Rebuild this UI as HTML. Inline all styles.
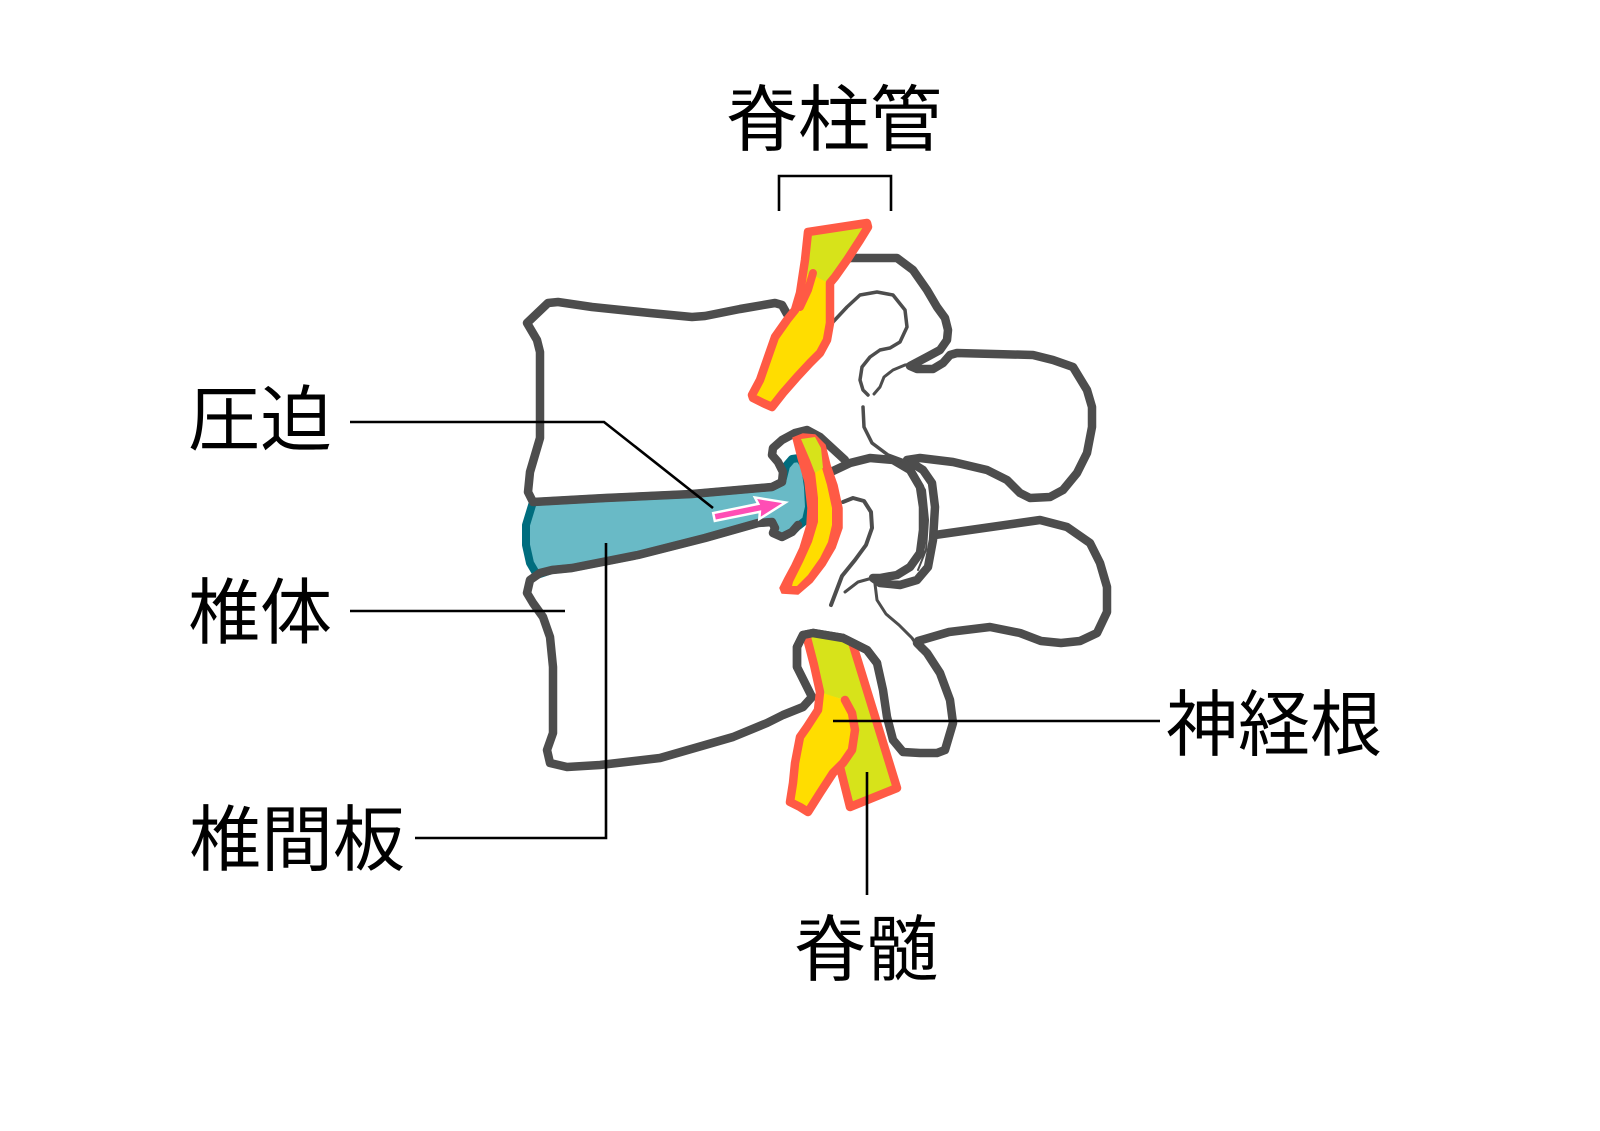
<!DOCTYPE html>
<html>
<head>
<meta charset="utf-8">
<style>
html,body{margin:0;padding:0;background:#fff;width:1600px;height:1131px;overflow:hidden}
svg{display:block}
text{font-family:"Liberation Sans","Noto Sans CJK JP",sans-serif;font-size:72px;font-weight:400;fill:#000}
</style>
</head>
<body>
<svg width="1600" height="1131" viewBox="0 0 1600 1131" xmlns="http://www.w3.org/2000/svg">
<rect width="1600" height="1131" fill="#fff"/>

<!-- intervertebral disc -->
<path d="M533,502 L605,498 L692,494 L772,487 L782,482 L786,466 L792,459 L799,458 L805,466 L808,487 L809,507 L806,520 L797,527 L792,532 L782,537 L773,533 L775,528 L772,522 L758,523 L705,538 L638,555 L572,568 L552,570 L537,575 L530,563 L526,545 L526,525 Z" fill="#69bac6" stroke="#006d7e" stroke-width="8" stroke-linejoin="round"/>

<g fill="none" stroke="#4d4d4d" stroke-linecap="round" stroke-linejoin="round">
<!-- upper vertebral body -->
<path stroke-width="8.5" d="M787,314 L782,305 L775,303 L740,309 L705,316 L692,317 L650,313 L592,307 L558,302 L548,303 L527,323 L537,340 L540,352 L540,438 L535,455 L530,472 L528,492 L533,502 L605,498 L692,494 L772,487 L782,482 L783,472 L778,462 L772,455 L773,448 L782,440 L795,433 L807,430 L820,437 L845,460"/>
<!-- lower vertebral body -->
<path stroke-width="8.5" d="M798,525 L792,532 L782,537 L773,533 L775,528 L772,522 L758,523 L705,538 L638,555 L572,568 L552,570 L540,573 L530,580 L527,593 L533,603 L543,617 L550,637 L553,667 L553,733 L547,750 L550,763 L567,767 L600,765 L660,758 L733,737 L767,723 L783,715 L803,707 L812,697 L805,683 L797,667 L797,647 L803,635 L813,633 L843,638 L867,650 L877,663 L883,690 L887,717 L893,740 L903,752 L920,753 L937,753 L945,750 L953,723 L950,700 L940,673 L927,653 L917,643"/>
<!-- lamina / upper transverse process -->
<path stroke-width="8.5" d="M835,275 L840,263 L850,258 L897,258 L913,270 L927,290 L937,307 L945,318 L948,330 L947,340 L940,350 L927,357 L910,366 L917,369 L933,369 L943,363 L950,355 L957,353 L1033,355 L1053,360 L1073,367 L1087,390 L1092,407 L1092,427 L1087,453 L1077,473 L1063,490 L1050,497 L1030,498 L1020,493 L1007,480 L987,470 L953,462 L920,458 L907,460 L923,470 L932,483 L935,507 L933,540 L928,567 L917,580 L900,585 L880,583 L873,578 L880,578 L897,575 L910,567 L920,553 L923,530 L923,507 L920,487 L910,470 L893,460 L870,458 L850,463 L833,471"/>
<!-- lower transverse process -->
<path stroke-width="8.5" d="M935,535 L1040,520 L1067,527 L1090,543 L1100,563 L1107,587 L1107,612 L1097,633 L1080,641 L1061,643 L1041,641 L1020,633 L990,627 L949,632 L918,641"/>
<!-- thin facet lines -->
<path stroke-width="3.5" d="M833,322 L847,307 L860,295 L877,292 L893,295 L905,310 L907,327 L900,342 L890,348 L880,350 L870,357 L862,367 L860,380 L863,390 L868,395"/>
<path stroke-width="3" d="M915,364 L905,365 L893,370 L884,377 L880,387 L874,394"/>
<path stroke-width="3.5" d="M863,407 L864,427 L872,443 L888,455 L907,462"/>
<path stroke-width="4" d="M843,502 L853,498 L864,501 L871,512 L872,528 L866,545 L855,560 L842,576 L831,605"/>
<path stroke-width="3" d="M845,592 L858,582 L876,577"/>
<path stroke-width="3" d="M875,584 L877,600 L886,614 L899,625 L912,638 L920,650"/>
<path stroke-width="2" d="M915,472 L925,490 L928,520 L926,550 L918,570"/>
</g>

<!-- upper nerve -->
<path d="M808,232 L867,223 L868,227 L860,240 L847,260 L835,277 L830,283 L830,300 L830,323 L827,340 L820,353 L810,363 L797,377 L783,393 L772,407 L763,403 L753,398 L752,395 L760,380 L768,357 L775,337 L787,320 L795,310 L800,293 L805,260 Z" fill="#ffdd00"/>
<path d="M808,232 L867,223 L860,240 L847,260 L835,277 L830,284 L815,276 L805,273 L805,260 Z" fill="#d7e31a"/>
<path d="M808,232 L867,223 L868,227 L860,240 L847,260 L835,277 L830,283 L830,300 L830,323 L827,340 L820,353 L810,363 L797,377 L783,393 L772,407 L763,403 L753,398 L752,395 L760,380 L768,357 L775,337 L787,320 L795,310 L800,293 L805,260 Z" fill="none" stroke="#ff5a45" stroke-width="8.5" stroke-linejoin="round"/>
<path d="M813,273 L808,290 L800,307" fill="none" stroke="#ff5a45" stroke-width="8" stroke-linecap="round"/>

<!-- middle nerve -->
<path d="M793,438 L798,458 L805,482 L808,508 L807,525 L800,548 L792,565 L785,578 L780,588 L782,593 L798,594 L812,582 L825,565 L835,548 L842,528 L842,508 L837,485 L830,465 L825,445 L815,435 L803,434 Z" fill="#ff5a45" stroke="#ff5a45" stroke-width="1.5" stroke-linejoin="round"/>
<path d="M815,472 L818,498 L818,522 L812,542 L803,562 L793,582 L792,586 L797,586 L808,575 L820,558 L828,542 L832,525 L832,508 L827,485 L822,468 Z" fill="#ffdd00"/>
<path d="M801,439 L815,437 L821,448 L823,468 L815,473 L810,460 Z" fill="#d7e31a"/>

<!-- lower spinal cord + nerve root -->
<path d="M806,636 L856,642 L898,788 L850,807 L840,767 L848,755 L855,735 L852,712 L845,700 L820,693 Z" fill="#d7e31a"/>
<path d="M820,692 L818,710 L807,727 L800,737 L795,763 L793,783 L790,802 L800,807 L808,812 L820,793 L833,773 L843,763 L852,750 L855,730 L852,713 L845,700 L832,696 Z" fill="#ffdd00"/>
<g fill="none" stroke="#ff5a45" stroke-width="8.5" stroke-linecap="round" stroke-linejoin="round">
<path d="M807,638 L814,665 L820,692 L818,710 L807,727 L800,737 L795,763 L793,783 L790,802 L800,807 L808,812 L820,793 L833,773 L843,763 L852,750 L855,730 L852,713 L845,700"/>
<path d="M853,645 L897,788 L850,807 L840,767"/>
</g>
<!-- gray over cord top -->
<path d="M797,667 L797,647 L803,635 L813,633 L843,638 L867,650 L877,663" fill="none" stroke="#4d4d4d" stroke-width="8.5" stroke-linecap="round" stroke-linejoin="round"/>

<!-- compression arrow -->
<g transform="translate(714,517) rotate(-11.5)">
<polygon points="0,-4 46,-4 44,-11 73,0 44,11 46,4 0,4" fill="#ff4eb5" stroke="#fff" stroke-width="2.5" stroke-linejoin="miter"/>
</g>

<!-- leader lines -->
<g fill="none" stroke="#000" stroke-width="2.6" stroke-linejoin="miter">
<path d="M779,211 L779,176 L891,176 L891,211"/>
<path d="M350,422 L604,422 L713,508"/>
<path d="M350,611 L565,611"/>
<path d="M415,838 L606,838 L606,543"/>
<path d="M833,721 L1160,721"/>
<path d="M867,772 L867,895"/>
</g>

<!-- labels -->
<text x="726" y="145">脊柱管</text>
<text x="188" y="445">圧迫</text>
<text x="188" y="638">椎体</text>
<text x="189" y="865">椎間板</text>
<text x="1166" y="750">神経根</text>
<text x="794" y="975">脊髄</text>
</svg>
</body>
</html>
